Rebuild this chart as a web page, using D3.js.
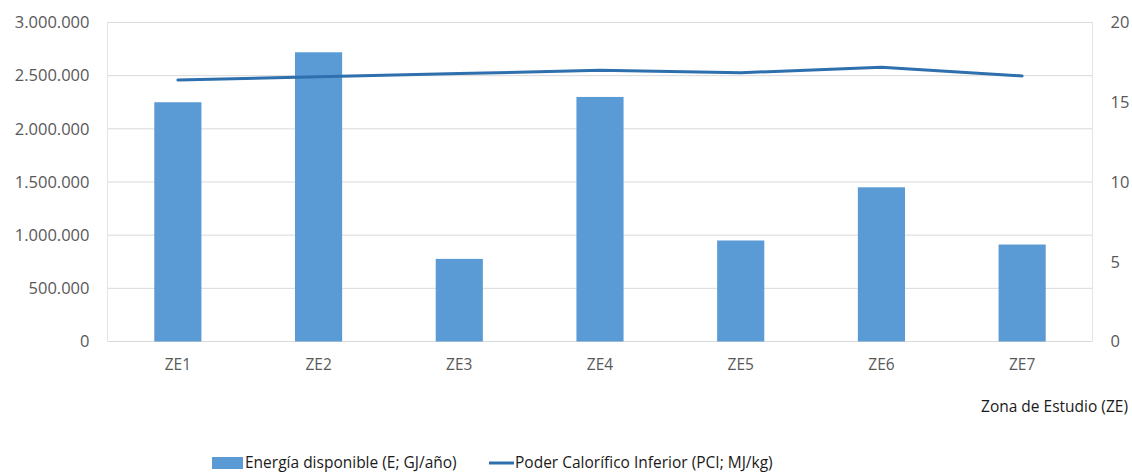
<!DOCTYPE html>
<html><head><meta charset="utf-8">
<script src="https://cdn.jsdelivr.net/npm/d3@7"></script>
<style>body{margin:0;background:#fff}svg{display:block}</style>
</head><body>
<script>
const categories = ["ZE1","ZE2","ZE3","ZE4","ZE5","ZE6","ZE7"];
const energia = [2250000, 2720000, 777000, 2300000, 950000, 1450000, 912000];
const pci = [16.4, 16.6, 16.8, 17.0, 16.85, 17.2, 16.65];
const leftTicks = [0,500000,1000000,1500000,2000000,2500000,3000000];
const rightTicks = [0,5,10,15,20];
const seriesNames = ["Energía disponible (E; GJ/año)", "Poder Calorífico Inferior (PCI; MJ/kg)"];
const xTitle = "Zona de Estudio (ZE)";

const W=1132,H=474;
const m={l:107.5,r:1092.5,t:22.5,b:341.5};
const font = "'Open Sans', sans-serif";
const svg=d3.select("body").append("svg").attr("width",W).attr("height",H).style("font-family",font);

const x=d3.scaleBand().domain(categories).range([m.l,m.r]).paddingInner(0.665).paddingOuter(0.3325);
const yL=d3.scaleLinear().domain([0,3000000]).range([m.b,m.t]);
const yR=d3.scaleLinear().domain([0,20]).range([m.b,m.t]);
const fmt=v=>d3.format(",")(v).replace(/,/g,".");

// gridlines
svg.append("g").selectAll("line").data(leftTicks).join("line")
 .attr("x1",m.l).attr("x2",m.r).attr("y1",d=>yL(d)).attr("y2",d=>yL(d))
 .attr("stroke","#d9d9d9").attr("stroke-width",1);
svg.append("line").attr("x1",m.l).attr("x2",m.l).attr("y1",m.t).attr("y2",m.b).attr("stroke","#e4e4e4");
svg.append("line").attr("x1",m.r).attr("x2",m.r).attr("y1",m.t).attr("y2",m.b).attr("stroke","#e4e4e4");

// left axis
const gl=svg.append("g").attr("transform",`translate(${m.l},0)`)
 .call(d3.axisLeft(yL).tickValues(leftTicks).tickFormat(fmt).tickSize(0).tickPadding(18));
gl.select(".domain").remove();
gl.selectAll("text").attr("font-size",16.5).attr("fill","#595959").style("font-family",font);

// right axis
const gr=svg.append("g").attr("transform",`translate(${m.r},0)`)
 .call(d3.axisRight(yR).tickValues(rightTicks).tickSize(0).tickPadding(18));
gr.select(".domain").remove();
gr.selectAll("text").attr("font-size",16.5).attr("fill","#595959").style("font-family",font);

// bottom axis
const gb=svg.append("g").attr("transform",`translate(0,${m.b})`)
 .call(d3.axisBottom(x).tickSize(0).tickPadding(17));
gb.select(".domain").remove();
gb.selectAll("text").attr("font-size",15.5).attr("fill","#595959").style("font-family",font);

// bars
svg.append("g").selectAll("rect").data(categories).join("rect")
 .attr("x",d=>x(d)).attr("width",x.bandwidth())
 .attr("y",(d,i)=>yL(energia[i])).attr("height",(d,i)=>yL(0)-yL(energia[i]))
 .attr("fill","#5b9bd5");

// line
const line=d3.line().x((d,i)=>x(categories[i])+x.bandwidth()/2).y(d=>yR(d));
svg.append("path").datum(pci).attr("d",line).attr("fill","none")
 .attr("stroke","#2e6fae").attr("stroke-width",3).attr("stroke-linejoin","round").attr("stroke-linecap","round");

// x title
svg.append("text").attr("x",1128).attr("y",412).attr("text-anchor","end")
 .attr("font-size",15.5).attr("fill","#1a1a1a").text(xTitle);

// legend
svg.append("rect").attr("x",212).attr("y",457).attr("width",31).attr("height",12).attr("fill","#5b9bd5");
svg.append("text").attr("x",245).attr("y",468).attr("font-size",15.5).attr("fill","#1a1a1a").text(seriesNames[0]);
svg.append("line").attr("x1",489).attr("x2",514).attr("y1",463).attr("y2",463).attr("stroke","#2e6fae").attr("stroke-width",3);
svg.append("text").attr("x",515).attr("y",468).attr("font-size",15.5).attr("fill","#1a1a1a").text(seriesNames[1]);
</script>
</body></html>
